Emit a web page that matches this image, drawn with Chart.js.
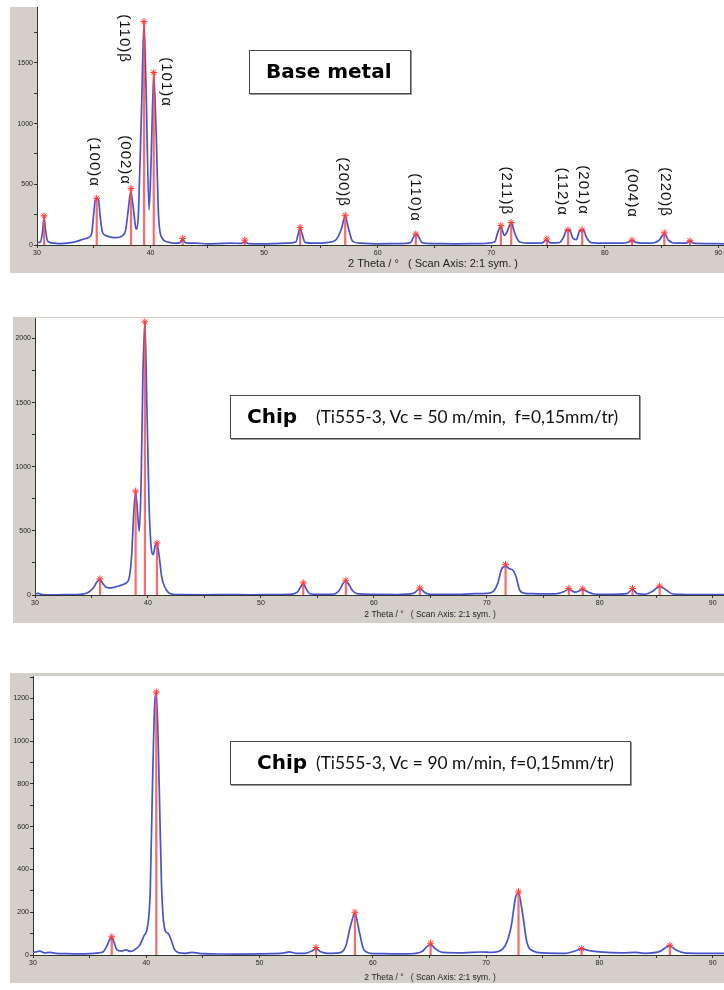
<!DOCTYPE html>
<html>
<head>
<meta charset="utf-8">
<script src="https://cdn.jsdelivr.net/npm/chart.js@4.4.1/dist/chart.umd.min.js"></script>
<style>
    body { margin: 0; width: 724px; height: 990px; position: relative; overflow: hidden; background: #fff; }
    canvas { position: absolute; background: #d4d0c8; }
    .tag { position: absolute; background: #fff; border: 1.5px solid #4a4a4a; box-shadow: 1px 1px 0 #9a9a9a; box-sizing: border-box; white-space: nowrap; }
    .tag b { font-family: "DejaVu Sans", sans-serif; font-weight: bold; font-size: 20px; color: #000; position: absolute; }
    .tag span { font-family: Lato, "Open Sans", sans-serif; font-size: 17.4px; color: #111; position: absolute; }
</style>
</head>
<body>
<canvas id="xrdBase" width="714" height="266" style="left:10px;top:7px"></canvas>
<canvas id="xrdChip50" width="711" height="306" style="left:13px;top:317px"></canvas>
<canvas id="xrdChip90" width="714" height="310" style="left:10px;top:673px"></canvas>

<div class="tag" style="left:249px;top:50px;width:162px;height:44px"><b style="left:16px;top:8px">Base metal</b></div>
<div class="tag" style="left:230px;top:395px;width:410px;height:44px"><b style="left:16px;top:8px">Chip</b><span style="left:85px;top:10px">(Ti555-3, Vc = 50 m/min,&nbsp; f=0,15mm/tr)</span></div>
<div class="tag" style="left:230px;top:741px;width:401px;height:44px"><b style="left:26px;top:8px">Chip</b><span style="left:85px;top:10px">(Ti555-3, Vc = 90 m/min, f=0,15mm/tr)</span></div>

<script>
// ---- data (2 theta in degrees, intensity in counts) ----
const xTicks = [30, 35, 40, 45, 50, 55, 60, 65, 70, 75, 80, 85, 90];

// base metal
const theta1 = [30.0, 30.3, 30.5, 30.62, 30.75, 30.95, 31.5, 32.0, 33.0, 33.5, 34.0, 34.5, 34.8, 35.0, 35.15, 35.4, 35.55, 35.75,
    36.0, 36.5, 37.0, 37.5, 37.8, 38.05, 38.25, 38.45, 38.7, 38.8, 38.95, 39.2, 39.42, 39.6, 39.87, 40.05, 40.28, 40.5, 40.7,
    41.0, 41.5, 42.0, 42.6, 42.83, 43.1, 44, 45, 46, 47, 48, 48.3, 48.6, 50, 51, 52, 52.8, 53.0, 53.17, 53.35, 53.6, 54.5,
    55.5, 56.3, 56.8, 57.14, 57.45, 57.8, 58.5, 60, 62, 62.9, 63.2, 63.4, 63.6, 63.9, 65, 67, 69, 70.3, 70.6, 70.85, 71.15,
    71.35, 71.76, 72.1, 72.5, 73.5, 74.5, 74.9, 75.2, 76.0, 76.4, 76.65, 76.9, 77.2, 77.5, 77.8, 78.1, 78.4, 78.8, 80, 81.5,
    82.1, 82.4, 82.7, 84, 84.8, 85.24, 85.6, 86.2, 87.2, 87.5, 87.8, 89, 90.5];
const counts1 = [20, 25, 120, 225, 120, 30, 15, 12, 20, 30, 45, 60, 90, 260, 380, 380, 250, 110,
    80, 65, 60, 75, 120, 300, 440, 330, 140, 130, 300, 1100, 1820, 1300, 290, 700, 1400, 900, 250,
    60, 25, 15, 20, 45, 18, 15, 10, 12, 15, 14, 28, 12, 10, 12, 15, 25, 90, 135, 90, 22, 15,
    20, 40, 130, 235, 130, 30, 15, 10, 12, 20, 75, 90, 70, 20, 12, 10, 12, 25, 110, 150, 80,
    100, 180, 90, 25, 15, 18, 45, 18, 20, 70, 125, 125, 55, 45, 120, 125, 60, 20, 15, 15,
    25, 40, 22, 15, 40, 95, 40, 15, 18, 35, 15, 12, 10];
const peakPos1 = [30.62, 35.26, 38.28, 39.42, 40.28, 42.83, 48.3, 53.17, 57.14, 63.36, 70.85, 71.76, 74.9, 76.76, 78.0, 82.4, 85.24, 87.5];
const peakInt1 = [240, 385, 465, 1840, 1420, 55, 40, 145, 245, 90, 160, 185, 50, 125, 125, 40, 100, 35];
const hklText1 = ['(100)α', '(002)α', '(110)β', '(101)α', '(200)β', '(110)α', '(211)β', '(112)α', '(201)α', '(004)α', '(220)β'];
const hklPos1 = [35.02, 37.75, 37.67, 41.37, 56.96, 63.30, 71.32, 76.26, 78.10, 82.42, 85.33];
const hklInt1 = [478, 494, 1500, 1137, 313, 190, 247, 239, 247, 222, 231];
const yTicks1 = [0, 250, 500, 750, 1000, 1250, 1500, 1750];

// chip, Vc = 50 m/min
const theta2 = [30.0, 30.3, 30.6, 31, 32, 33, 34.0, 34.4, 34.8, 35.2, 35.5, 35.75, 36.0, 36.3, 36.6, 37.0, 37.5, 38.0, 38.3,
    38.55, 38.75, 38.91, 39.1, 39.23, 39.4, 39.55, 39.73, 39.9, 40.1, 40.3, 40.47, 40.65, 40.8, 41.0, 41.2, 41.45, 41.8,
    42.2, 43, 45, 47, 49, 51, 52.5, 53.2, 53.5, 53.75, 54.0, 54.3, 55, 56.5, 57.0, 57.3, 57.52, 57.8, 58.1, 58.5, 60, 62,
    63.5, 64.07, 64.5, 65, 67, 69, 70, 70.6, 71.0, 71.3, 71.66, 72.0, 72.3, 72.6, 72.9, 73.3, 74, 75, 76, 76.8, 77.26,
    77.8, 78.5, 79.0, 79.5, 81, 82.4, 82.9, 83.3, 84, 84.7, 85.3, 85.9, 86.4, 87.5, 89, 91];
const counts2 = [10, 12, 3, 2, 2, 3, 5, 10, 25, 60, 105, 120, 90, 60, 55, 60, 72, 90, 120,
    300, 650, 800, 620, 495, 900, 1700, 2120, 1500, 700, 360, 315, 390, 400, 300, 150, 70, 20,
    6, 3, 2, 3, 2, 3, 5, 20, 60, 90, 50, 12, 5, 8, 45, 95, 108, 80, 35, 10, 5, 4,
    12, 50, 20, 6, 5, 10, 12, 30, 100, 200, 225, 205, 195, 140, 40, 15, 10, 8, 8, 25, 45,
    22, 42, 22, 8, 5, 10, 45, 12, 6, 30, 68, 38, 10, 4, 3, 3];
const peakPos2 = [35.75, 38.91, 39.73, 40.8, 53.75, 57.52, 64.07, 71.66, 77.26, 78.5, 82.9, 85.3];
const peakInt2 = [125, 810, 2130, 405, 95, 115, 55, 240, 50, 48, 50, 70];
const yTicks2 = [0, 250, 500, 750, 1000, 1250, 1500, 1750, 2000];

// chip, Vc = 90 m/min
const theta3 = [30.0, 30.3, 30.6, 31.0, 31.5, 32, 33, 34, 35, 35.8, 36.2, 36.5, 36.8, 36.95, 37.15, 37.4, 37.8, 38.2, 38.6,
    39.0, 39.4, 39.8, 40.1, 40.35, 40.55, 40.75, 40.88, 41.05, 41.2, 41.35, 41.5, 41.7, 41.95, 42.2, 42.5, 42.9, 43.5, 44,
    45, 46, 48, 50, 51, 52.2, 52.6, 53.2, 54, 54.6, 54.98, 55.4, 56, 57, 57.6, 58.0, 58.42, 58.8, 59.2, 59.8, 61, 63,
    64.3, 64.8, 65.1, 65.5, 66.2, 68, 69.5, 70.5, 71.5, 72.2, 72.6, 72.86, 73.2, 73.6, 74.2, 75, 77, 77.9, 78.43, 79, 80,
    82, 83.2, 84, 85.4, 86.0, 86.22, 86.8, 87.5, 89, 91];
const counts3 = [12, 15, 18, 10, 12, 8, 6, 5, 6, 10, 15, 40, 75, 80, 60, 25, 18, 24, 17,
    25, 45, 90, 130, 300, 800, 1180, 1220, 1000, 650, 320, 170, 110, 100, 70, 25, 10, 8, 12,
    6, 5, 4, 5, 6, 10, 15, 8, 8, 18, 30, 15, 8, 10, 40, 130, 195, 110, 25, 8, 6, 5,
    15, 40, 50, 30, 12, 10, 14, 12, 30, 130, 270, 290, 200, 60, 18, 10, 8, 20, 28, 22, 15,
    10, 12, 8, 18, 40, 42, 22, 10, 8, 8];
const peakPos3 = [36.95, 40.88, 54.98, 58.42, 65.1, 72.86, 78.43, 86.22];
const peakInt3 = [85, 1230, 35, 200, 55, 295, 30, 45];
const yTicks3 = [0, 100, 200, 300, 400, 500, 600, 700, 800, 900, 1000, 1100, 1200, 1300];

// ---- drawing ----
const tickFont = { family: '"Liberation Sans", Arial, sans-serif', size: 7 };

const plotBg = {
    id: 'plotBg',
    beforeDraw(chart) {
        const { ctx, chartArea: a } = chart;
        ctx.save();
        ctx.fillStyle = '#ffffff';
        ctx.fillRect(a.left, a.top, a.right - a.left, a.bottom - a.top);
        ctx.restore();
    }
};

const axisCaption = {
    id: 'axisCaption',
    afterDraw(chart, args, opts) {
        const ctx = chart.ctx;
        ctx.save();
        ctx.font = opts.size + 'px "Liberation Sans", Arial, sans-serif';
        ctx.fillStyle = '#222';
        ctx.textAlign = 'center';
        ctx.textBaseline = 'middle';
        ctx.fillText('2 Theta / °   ( Scan Axis: 2:1 sym. )', opts.x, opts.y);
        ctx.restore();
    }
};

const hklLabels = {
    id: 'hklLabels',
    afterDatasetsDraw(chart, args, opts) {
        if (!opts.text) return;
        const { ctx, scales } = chart;
        ctx.save();
        ctx.font = '15px "Liberation Sans", Arial, sans-serif';
        ctx.letterSpacing = '1px';
        ctx.fillStyle = '#111';
        ctx.textAlign = 'right';
        ctx.textBaseline = 'middle';
        opts.text.forEach((t, i) => {
            ctx.save();
            ctx.translate(scales.x.getPixelForValue(opts.pos[i]), scales.y.getPixelForValue(opts.val[i]));
            ctx.rotate(Math.PI / 2);
            ctx.fillText(t, 0, 0);
            ctx.restore();
        });
        ctx.restore();
    }
};

function sticks(pos, val) {
    const pts = [];
    pos.forEach((p, i) => {
        pts.push({ x: p, y: 0 }, { x: p, y: val[i] }, { x: p, y: null });
    });
    return pts;
}

function drawPattern(id, p) {
    new Chart(document.getElementById(id), {
        type: 'line',
        data: {
            datasets: [
                {
                    data: p.peakPos.map((x, i) => ({ x: x, y: p.peakInt[i] })),
                    showLine: false,
                    pointStyle: 'star',
                    pointRadius: 3.5,
                    pointBorderColor: '#ff3b3b',
                    pointBorderWidth: 1,
                    clip: false,
                    order: 0
                },
                {
                    data: sticks(p.peakPos, p.peakInt),
                    borderColor: 'rgba(255, 70, 70, 0.8)',
                    borderWidth: 2.2,
                    pointRadius: 0,
                    spanGaps: false,
                    order: 1
                },
                {
                    data: p.theta.map((x, i) => ({ x: x, y: p.counts[i] })),
                    borderColor: '#4754cc',
                    borderWidth: 1.7,
                    pointRadius: 0,
                    cubicInterpolationMode: 'monotone',
                    order: 2
                }
            ]
        },
        options: {
            responsive: false,
            animation: false,
            layout: { autoPadding: false, padding: { top: p.padTop, right: 0, bottom: 0, left: 0 } },
            plugins: {
                legend: { display: false },
                tooltip: { enabled: false },
                axisCaption: p.caption,
                hklLabels: p.hkl || {}
            },
            scales: {
                x: {
                    type: 'linear',
                    min: 30,
                    max: p.xMax,
                    afterBuildTicks: s => { s.ticks = xTicks.map(v => ({ value: v })); },
                    afterFit: s => { s.height = 28; s.paddingLeft = 0; s.paddingRight = 0; },
                    grid: { drawOnChartArea: false, tickLength: 3, color: '#333' },
                    border: { color: '#333', width: 1 },
                    ticks: {
                        autoSkip: false, maxRotation: 0, padding: 1, font: tickFont, color: '#222',
                        callback: v => (v % 10 === 0 ? String(v) : '')
                    }
                },
                y: {
                    min: 0,
                    max: p.yMax,
                    afterBuildTicks: s => { s.ticks = p.yTicks.map(v => ({ value: v })); },
                    afterFit: s => { s.width = p.yWidth; s.paddingTop = 0; s.paddingBottom = 0; },
                    grid: { drawOnChartArea: false, tickLength: 3, color: '#333' },
                    border: { color: '#333', width: 1 },
                    ticks: {
                        autoSkip: false, padding: 1, font: tickFont, color: '#222',
                        callback: v => (v % p.yLabelStep === 0 ? String(v) : '')
                    }
                }
            }
        },
        plugins: [plotBg, axisCaption, hklLabels]
    });
}

drawPattern('xrdBase', {
    theta: theta1, counts: counts1, peakPos: peakPos1, peakInt: peakInt1,
    xMax: 90.5, yMax: 1960, yTicks: yTicks1, yLabelStep: 500, yWidth: 27, padTop: 0,
    caption: { x: 423, y: 257, size: 11 },
    hkl: { text: hklText1, pos: hklPos1, val: hklInt1 }
});

drawPattern('xrdChip50', {
    theta: theta2, counts: counts2, peakPos: peakPos2, peakInt: peakInt2,
    xMax: 91, yMax: 2160, yTicks: yTicks2, yLabelStep: 500, yWidth: 22, padTop: 1,
    caption: { x: 417, y: 298, size: 8.5 }
});

drawPattern('xrdChip90', {
    theta: theta3, counts: counts3, peakPos: peakPos3, peakInt: peakInt3,
    xMax: 91, yMax: 1305, yTicks: yTicks3, yLabelStep: 200, yWidth: 23, padTop: 3,
    caption: { x: 420, y: 305, size: 8.5 }
});
</script>
</body>
</html>
